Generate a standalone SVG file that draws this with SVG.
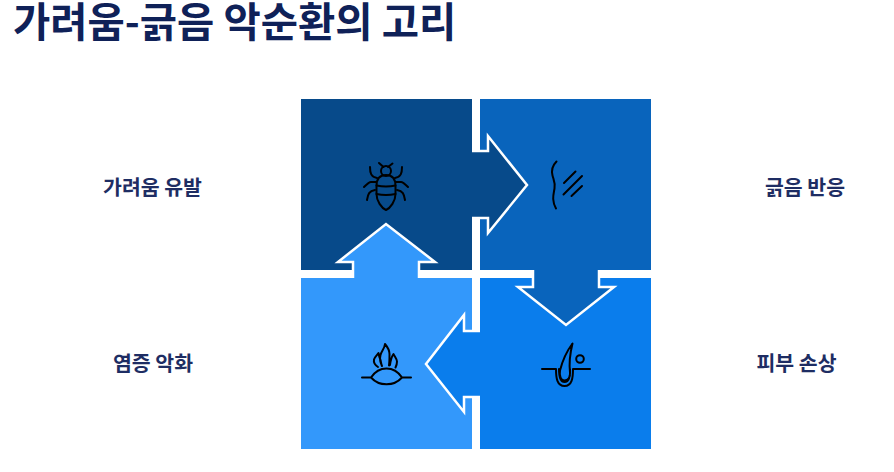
<svg xmlns="http://www.w3.org/2000/svg" width="894" height="472" viewBox="0 0 894 472">
<style>
text{font-family:"Noto Sans CJK KR","Noto Sans",sans-serif;font-weight:700}
.t{font-size:40.500px;fill:#0f2158}
.l{font-size:20.500px;fill:#1e2d63;text-anchor:middle;dominant-baseline:central}
.a{stroke:#fff;stroke-width:2.500;stroke-linejoin:miter}
.i{fill:none;stroke:#000;stroke-width:2;stroke-linecap:round;stroke-linejoin:round}
.c1{fill:#074a8a}.c2{fill:#0964bc}.c3{fill:#0a7dec}.c4{fill:#3398fb}
</style>
<rect width="894" height="472" fill="#fff"/>
<text class="t" x="13" y="37">가려움-긁음 악순환의 고리</text>
<g id="node-itch">
<rect class="c1" x="301" y="99" width="171" height="171"/>
<g class="i"><path d="M379 163l4.500 4M392.500 163.500l-4.500 3.500"/><circle cx="386" cy="171" r="5"/><path d="M386 175c-6 0-9.500 4-9.500 11v8c0 7 5 14 9.500 16c4.500-2 9.500-9 9.500-16v-8c0-7-3.500-11-9.500-11z"/><path d="M376.500 185.500q9.500 2 19 0M376.500 194q9.500 2 19 0"/><path d="M370 167c0 6 1 10 7 11M402 167c0 6-1 10-7 11M364 187c3-3 5-5 7-5h5M408 187c-3-3-5-5-7-5h-5M367 200c1-6 2-9 8-10M405 200c-1-6-2-9-8-10"/></g>
<text class="l" x="152.500" y="186">가려움 유발</text>
</g>
<g id="node-scratch">
<rect class="c2" x="480" y="99" width="171" height="171"/>
<g class="i"><path d="M556.500 161.500c-5 5-5 10-4 14c1 4 3 7 2 13c-1 6-3 12 1.500 20M564 183l11.500-11.500M563.500 194.500l18.500-18.500M571.500 196l10.500-10"/></g>
<text class="l" x="805" y="186">긁음 반응</text>
</g>
<g id="node-damage">
<rect class="c3" x="480" y="278" width="171" height="171"/>
<g class="i"><path d="M542 369h14c0 9 1 17 8.500 17s8.500-8 8.500-17h17M559 369c0 7 1 13 5.500 13s6-6 5.500-13M572.500 343.500c-6 8-10 17-12.500 27c-1 6 1 10 4.500 10c3.500 0 6-3 5.500-8c-1-9 0-19 2.500-29z"/><circle cx="580" cy="359" r="3.800"/></g>
<text class="l" x="796.500" y="362">피부 손상</text>
</g>
<g id="node-inflammation">
<rect class="c4" x="301" y="278" width="171" height="171"/>
<g class="i"><path d="M362 377.500h9M402 377.500h9M371 377.500c8-12 23-12 31 0c-8 9-23 9-31 0z"/><path d="M378 367c-3-2-4.500-5-4-7.500c.5-2.500 3-4 4.500-6.500c.5 3 1 5 2 7c.5 2 .5 4 1.500 6M382 366c-2-4-2.500-7-1.500-11c1-4 4-6 4.500-11c2.500 3 4.500 6 4.500 10c0 4 0 8-.5 11.500M390 365c.5-4 1.500-8 3.500-11c1 2.500 3.500 5 3.500 7.500c0 2-.5 4-1.500 6"/></g>
<text class="l" x="153" y="362">염증 악화</text>
</g>
<g id="connectors">
<path class="a c1" d="M472 151H488V136L527 185L488 233V218H472"/>
<path class="a c2" d="M533 270V287H518L566 325L614 287H599V270"/>
<path class="a c3" d="M480 331H464V315L426 364L464 412V397H480"/>
<path class="a c4" d="M353 278V262H338L386 224L435 262H419V278"/>
</g>
</svg>
